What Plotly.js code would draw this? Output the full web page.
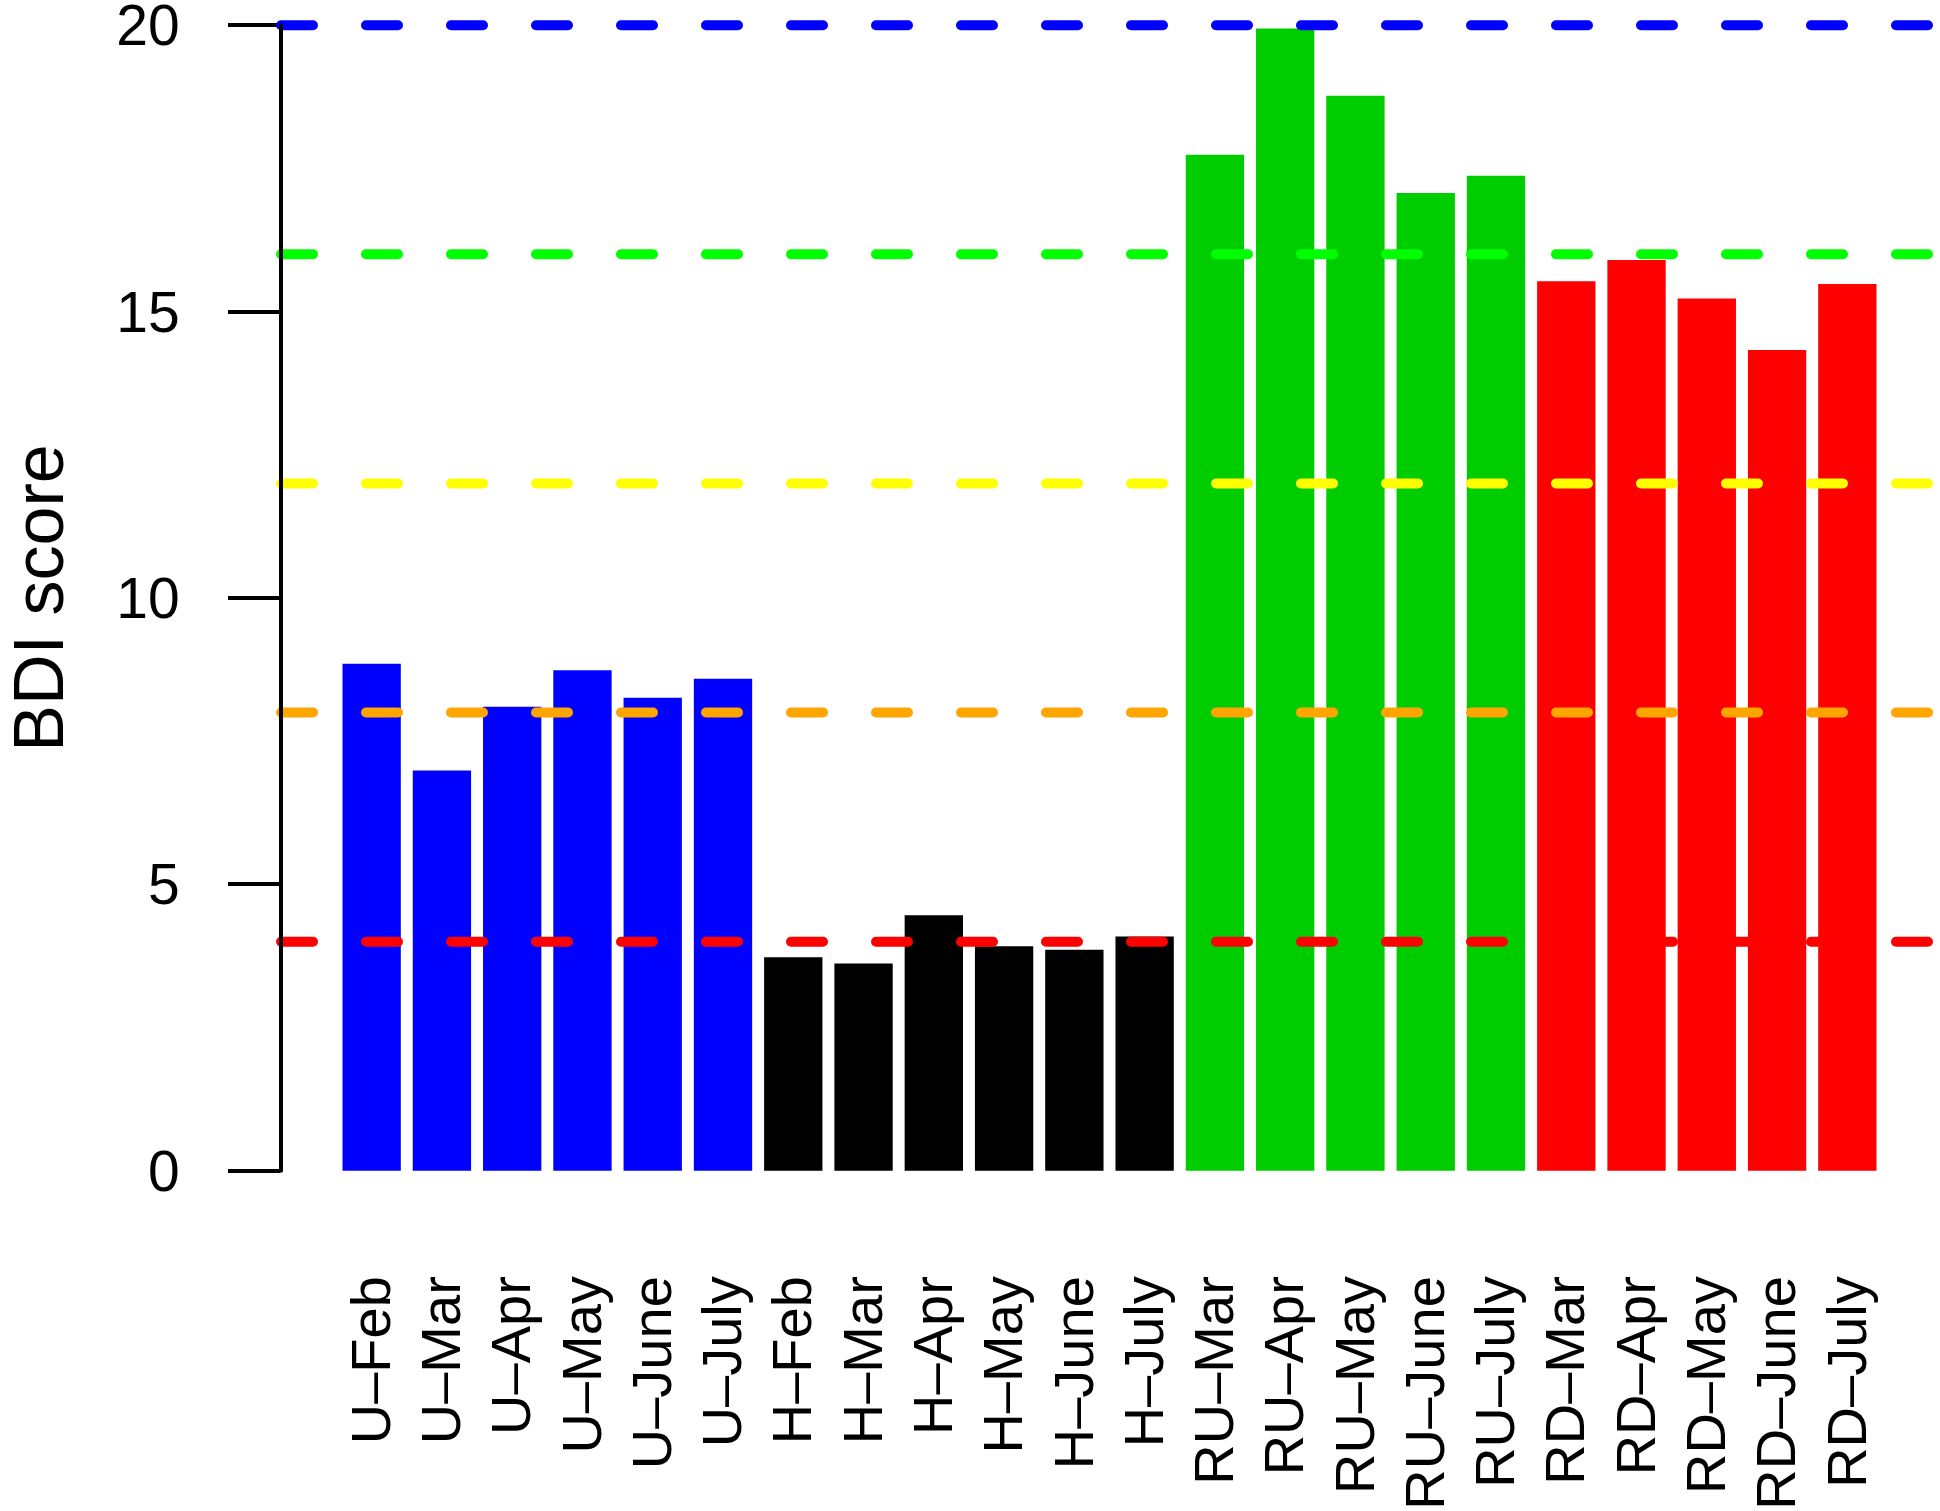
<!DOCTYPE html>
<html>
<head>
<meta charset="utf-8">
<script src="https://cdn.plot.ly/plotly-3.0.1.min.js"></script>
<style>
  html, body { margin: 0; padding: 0; background: #fff; }
  #chart { width: 1940px; height: 1511px; }
  /* R draws its dashed ablines with round ends */
  .shapelayer path { stroke-linecap: round; }
</style>
</head>
<body>
<div id="chart"></div>
<script>
// Bar labels and BDI means
const months = [
  'U–Feb', 'U–Mar', 'U–Apr', 'U–May', 'U–June', 'U–July',
  'H–Feb', 'H–Mar', 'H–Apr', 'H–May', 'H–June', 'H–July',
  'RU–Mar', 'RU–Apr', 'RU–May', 'RU–June', 'RU–July',
  'RD–Mar', 'RD–Apr', 'RD–May', 'RD–June', 'RD–July'
];
const bdiScores = [
  8.85, 6.99, 8.10, 8.74, 8.26, 8.59,
  3.73, 3.62, 4.46, 3.92, 3.86, 4.09,
  17.74, 19.94, 18.77, 17.07, 17.37,
  15.53, 15.90, 15.23, 14.33, 15.48
];
const groupSizes  = [6, 6, 5, 5];
const groupColors = ['#0000ff', '#000000', '#00cd00', '#ff0000'];

// horizontal reference lines (cut-offs) and their colours
const cutValues = [20, 16, 12, 8, 4];
const cutColors = ['#0000ff', '#00ff00', '#ffff00', '#ffa500', '#ff0000'];

const yTicks = [0, 5, 10, 15, 20];

const barColors = [];
groupSizes.forEach((n, g) => { for (let i = 0; i < n; i++) barColors.push(groupColors[g]); });

const FONT = 'Liberation Sans, Arial, Helvetica, sans-serif';

const trace = {
  type: 'bar',
  x: months,
  y: bdiScores,
  marker: { color: barColors, line: { width: 0 } },
  hoverinfo: 'x+y',
};

const shapes = cutValues.map((v, i) => ({
  type: 'line',
  xref: 'paper', yref: 'y',
  x0: 0, x1: 1, y0: v, y1: v,
  line: { color: cutColors[i], width: 10, dash: '32px,53px' },
}));

// y axis line only spans the labelled range, like R's axis()
shapes.push({
  type: 'line',
  xref: 'paper', yref: 'y',
  x0: 0, x1: 0, y0: 0, y1: 20,
  line: { color: '#000', width: 4 },
});

const layout = {
  width: 1940,
  height: 1511,
  paper_bgcolor: '#fff',
  plot_bgcolor: '#fff',
  margin: { l: 280.6, r: 1.6, t: 8, b: 323, autoexpand: false },
  bargap: 0.17,
  showlegend: false,
  font: { family: FONT, color: '#000' },
  xaxis: {
    type: 'category',
    range: [-1.29, 22.29],
    showline: false, showgrid: false, zeroline: false,
    ticks: '',
    tickangle: -90,
    tickfont: { size: 56, family: FONT, color: '#000' },
    ticklabelstandoff: 76,
    ticklabeloverflow: 'allow',
    automargin: false,
  },
  yaxis: {
    range: [-0.3, 20.3],
    tickvals: yTicks,
    ticktext: yTicks.map(String),
    showline: false, showgrid: false, zeroline: false,
    ticks: 'outside',
    ticklen: 52,
    tickwidth: 4,
    tickcolor: '#000',
    tickfont: { size: 57, family: FONT, color: '#000' },
    ticklabelstandoff: 37,
    ticklabeloverflow: 'allow',
    automargin: false,
    title: { text: 'BDI score', font: { size: 70, family: FONT, color: '#000' }, standoff: 70 },
  },
  shapes: shapes,
};

Plotly.newPlot('chart', [trace], layout, { displayModeBar: false, staticPlot: true });
</script>
</body>
</html>
